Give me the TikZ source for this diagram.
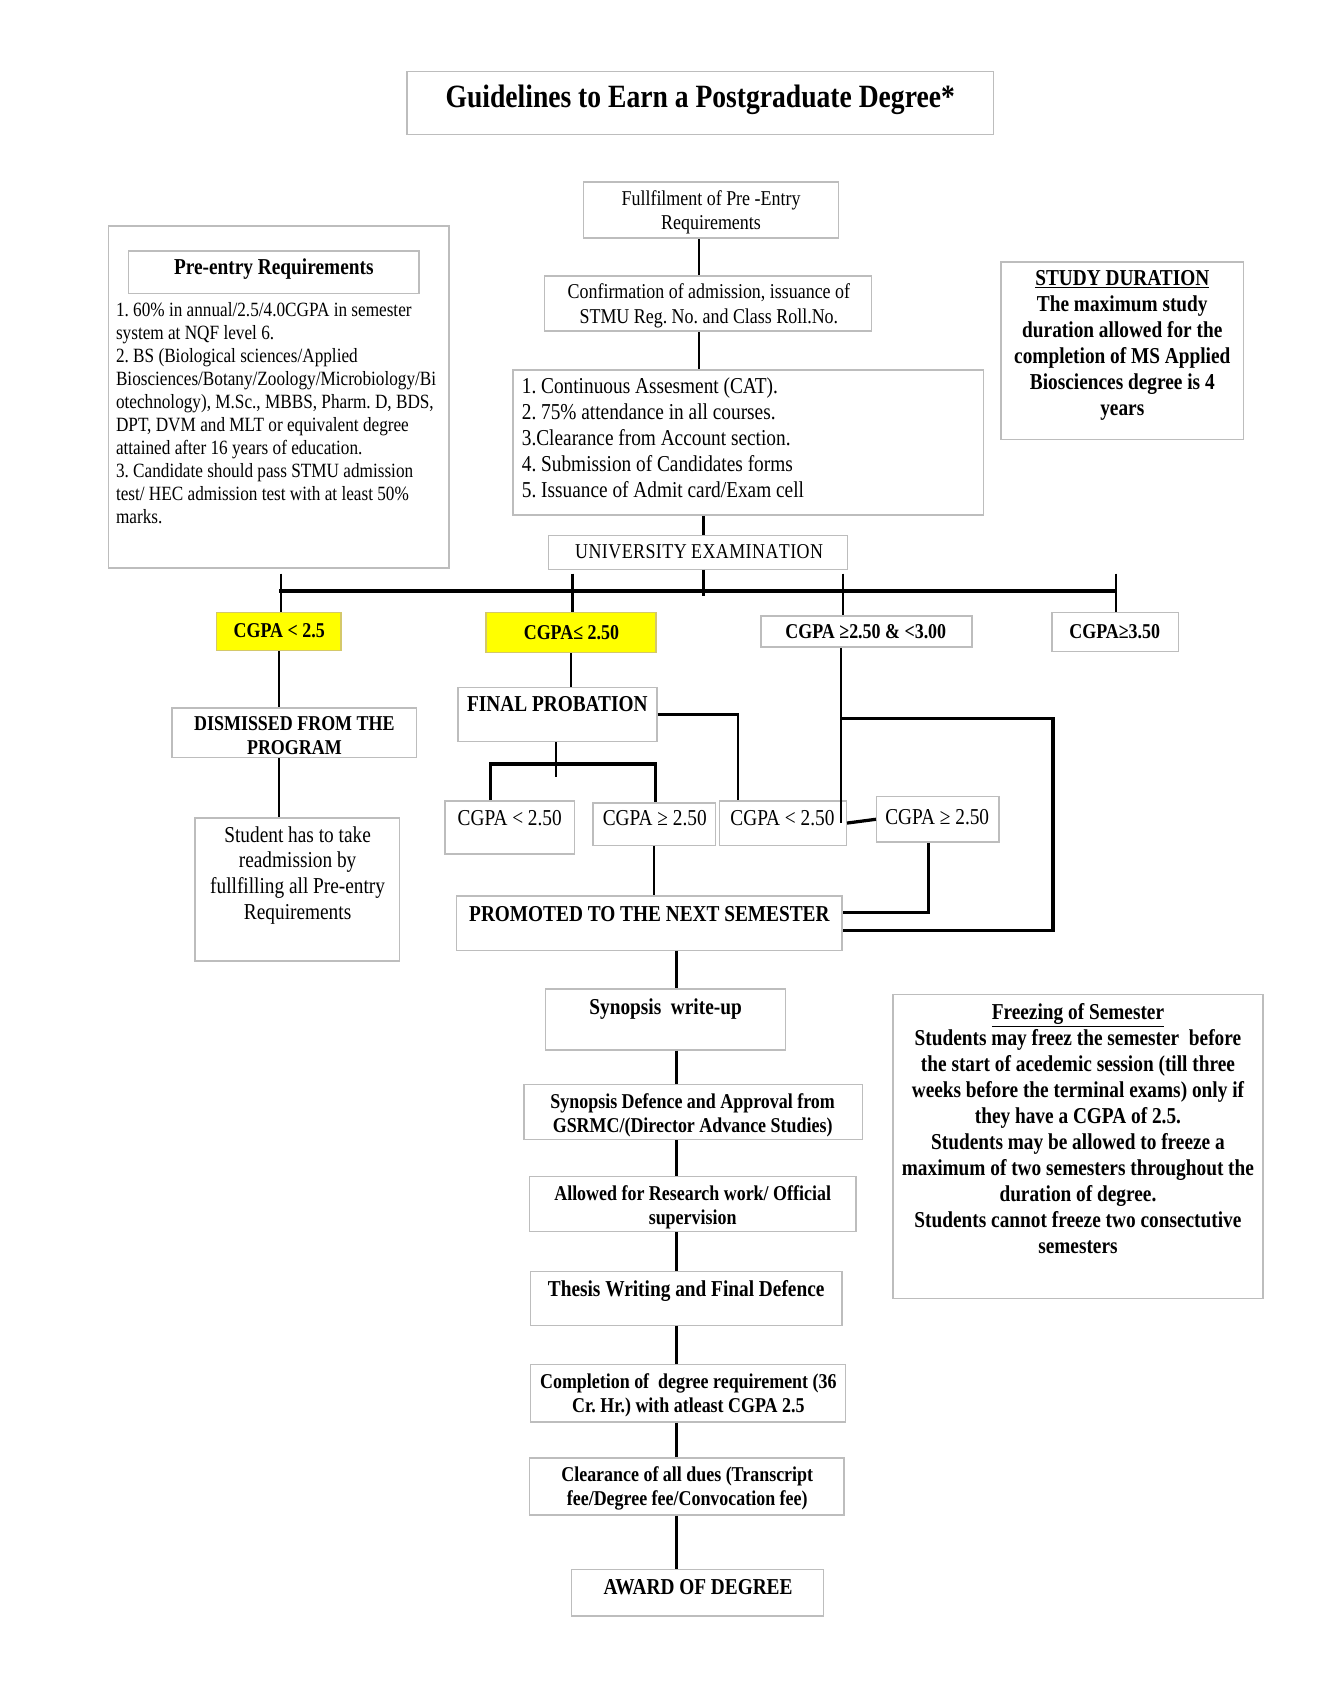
\documentclass[tikz,border=0pt]{standalone}
\usepackage{fontspec}
\setmainfont{Liberation Serif}[FakeStretch=0.85]
\frenchspacing
\usetikzlibrary{fit}
\definecolor{bxgray}{HTML}{BDBDBD}
\definecolor{yel}{HTML}{FFFF00}
\definecolor{yelborder}{HTML}{D4C86A}
\tikzset{
  bx/.style={draw=bxgray, line width=1.3pt, inner sep=0pt},
  ybx/.style={draw=yelborder, fill=yel, line width=1.3pt, inner sep=0pt},
  tr/.style={inner sep=0pt, anchor=base, align=flush center},
  tl/.style={inner sep=0pt, anchor=base west, align=flush left},
  fT/.style={font=\fontsize{30}{34}\selectfont\bfseries\frenchspacing},
  fB/.style={font=\fontsize{21}{24}\selectfont\bfseries\frenchspacing},
  fBs/.style={font=\fontsize{19.5}{22.5}\selectfont\bfseries\frenchspacing},
  fR/.style={font=\fontsize{21}{24}\selectfont\frenchspacing},
  fRs/.style={font=\fontsize{19.5}{22.5}\selectfont\frenchspacing},
  fRp/.style={font=\fontsize{18.7}{21.3}\selectfont\frenchspacing},
  cn/.style={line width=2pt, black},
  cnt/.style={line width=3pt, black},
}
\begin{document}
\begin{tikzpicture}[x=1pt, y=-1pt]
\fill[white] (0,0) rectangle (1222,1556);
\useasboundingbox (0,0) rectangle (1222,1556);

% ---------- boxes ----------
\node[bx, fit={(376,66) (918,124)}] (title) {};
\node[bx, fit={(539,168) (775,220)}] (fulfil) {};
\node[bx, fit={(503,255) (805,306)}] (confirm) {};
\node[bx, fit={(474,342) (909,476)}] (cat) {};
\node[bx, fit={(507,495) (783,526)}] (univ) {};
\node[bx, fit={(100,209) (415,525)}] (pre) {};
\node[bx, fit={(119,232) (387,271)}] (prehead) {};
\node[bx, fit={(925,242) (1149,406)}] (study) {};

\node[ybx, fit={(200,566) (315,601)}] (c1) {};
\node[ybx, fit={(449,566) (606,603)}] (c2) {};
\node[bx, fit={(703,569) (898,598)}] (c3) {};
\node[bx, fit={(972,566) (1089,602)}] (c4) {};

\node[bx, fit={(159,654) (385,700)}] (dism) {};
\node[bx, fit={(180,756) (369,888)}] (stud) {};
\node[bx, fit={(423,635) (607,685)}] (fp) {};

\node[bx, fit={(411,740) (531,789)}] (bxA) {};
\node[bx, fit={(548,742) (661,781)}] (bxB) {};
\node[bx, fit={(665,740) (782,781)}] (bxC) {};
\node[bx, fit={(810,736) (923,778)}] (bxD) {};

\node[bx, fit={(422,828) (778,878)}] (prom) {};
\node[bx, fit={(504,914) (726,970)}] (syn) {};
\node[bx, fit={(484,1002) (797,1053)}] (def) {};
\node[bx, fit={(489,1087) (791,1138)}] (allow) {};
\node[bx, fit={(490,1175) (778,1225)}] (thesis) {};
\node[bx, fit={(490,1261) (781,1314)}] (compl) {};
\node[bx, fit={(489,1347) (780,1400)}] (clear) {};
\node[bx, fit={(528,1450) (761,1493)}] (award) {};
\node[bx, fit={(825,919) (1167,1200)}] (freeze) {};

% ---------- texts ----------
\node[tr, fT, text width=560] (title-t) at (647,99) {Guidelines to Earn a Postgraduate Degree*};
\node[tr, fRs, text width=300] (fulfil-t) at (657,190) {Fullfilment of Pre -Entry\\[-0.5pt]Requirements};
\node[tr, fRs, text width=340] (confirm-t) at (655,276) {Confirmation of admission, issuance of\\STMU Reg. No. and Class Roll.No.};
\node[tl, fR, text width=420] (cat-t) at (482,364) {1. Continuous Assesment (CAT).\\2. 75\% attendance in all courses.\\3.Clearance from Account section.\\4. Submission of Candidates forms\\5. Issuance of Admit card/Exam cell};
\node[tr, fRs, text width=300] (univ-t) at (646,516) {U\kern.4ptN\kern.4ptI\kern.4ptV\kern.4ptE\kern.4ptR\kern.4ptS\kern.4ptI\kern.4ptT\kern.4ptY E\kern.4ptX\kern.4ptA\kern.4ptM\kern.4ptI\kern.4ptN\kern.4ptA\kern.4ptT\kern.4ptI\kern.4ptO\kern.4ptN};
\node[tr, fB, text width=300] (prehead-t) at (253,254) {Pre-entry Requirements};
\node[tl, fRp, text width=330] (pre-t) at (107,292) {1. 60\% in annual/2.5/4.0CGPA in semester\\system at NQF level 6.\\2. BS (Biological sciences/Applied\\Biosciences/Botany/Zoology/Microbiology/Bi\\otechnology), M.Sc., MBBS, Pharm. D, BDS,\\DPT, DVM and MLT or equivalent degree\\attained after 16 years of education.\\3. Candidate should pass STMU admission\\test/ HEC admission test with at least 50\%\\marks.};
\node[tr, fB, text width=260] (study-t) at (1037,264) {\underline{STUDY DURATION}\\The maximum study\\duration allowed for the\\completion of MS Applied\\Biosciences degree is 4\\years};

\node[tr, fBs, text width=140] (c1-t) at (258,589) {CGPA < 2.5};
\node[tr, fBs, text width=170] (c2-t) at (528,591) {CGPA≤ 2.50};
\node[tr, fBs, text width=210] (c3-t) at (800,590) {CGPA ≥2.50 \& <3.00};
\node[tr, fBs, text width=130] (c4-t) at (1030,590) {CGPA≥3.50};

\node[tr, fBs, text width=240] (dism-t) at (272,675) {DISMISSED FROM THE\\PROGRAM};
\node[tr, fR, text width=220] (stud-t) at (275,778) {Student has to take\\readmission by\\fullfilling all Pre-entry\\Requirements};
\node[tr, fB, text width=200] (fp-t) at (515,657) {FINAL PROBATION};

\node[tr, fR, text width=130] (bxA-t) at (471,763) {CGPA < 2.50};
\node[tr, fR, text width=130] (bxB-t) at (605,763) {CGPA ≥ 2.50};
\node[tr, fR, text width=130] (bxC-t) at (723,763) {CGPA < 2.50};
\node[tr, fR, text width=130] (bxD-t) at (866,762) {CGPA ≥ 2.50};

\node[tr, fB, text width=380] (prom-t) at (600,851) {PROMOTED TO THE NEXT SEMESTER};
\node[tr, fB, text width=240] (syn-t) at (615,937) {Synopsis\ \ write-up};
\node[tr, fBs, text width=340] (def-t) at (640,1024) {Synopsis Defence and Approval from\\GSRMC/(Director Advance Studies)};
\node[tr, fBs, text width=330] (allow-t) at (640,1109) {Allowed for Research work/ Official\\supervision};
\node[tr, fB, text width=310] (thesis-t) at (634,1198) {Thesis Writing and Final Defence};
\node[tr, fBs, text width=320] (compl-t) at (636,1283) {Completion of\ \ degree requirement (36\\Cr. Hr.) with atleast CGPA 2.5};
\node[tr, fBs, text width=320] (clear-t) at (635,1369) {Clearance of all dues (Transcript\\fee/Degree fee/Convocation fee)};
\node[tr, fB, text width=250] (award-t) at (645,1473) {AWARD OF DEGREE};
\node[tr, fB, text width=360] (freeze-t) at (996,942) {\underline{Freezing of Semester}\\Students may freez the semester\ \ before\\the start of acedemic session (till three\\weeks before the terminal exams) only if\\they have a CGPA of 2.5.\\Students may be allowed to freeze a\\maximum of two semesters throughout the\\duration of degree.\\Students cannot freeze two consectutive\\semesters};

% ---------- helper coordinates ----------
\coordinate (t1) at (646,0);
\coordinate (t2) at (650,0);
\coordinate (t3) at (625,0);
\coordinate (b1) at (260,530);
\coordinate (b2) at (529,530);
\coordinate (b4) at (779,530);
\coordinate (b5) at (1031,530);
\coordinate (busL) at (258,546);
\coordinate (busR) at (1032,546);
\coordinate (ut) at (650,551);
\coordinate (sp) at (514,706);
\coordinate (fpT) at (514,718);
\coordinate (v3) at (777,664);
\coordinate (rr) at (973,860);

% ---------- connectors ----------
\draw[cn] (fulfil.south -| t1) -- (confirm.north -| t1);
\draw[cn] (confirm.south -| t1) -- (cat.north -| t1);
\draw[cn] (cat.south -| t2) -- (univ.north -| t2);
\draw[cn] (univ.south -| t2) -- (ut);
\draw[cnt] (busL) -- (busR);
\draw[cn] (b1) -- (b1 |- c1.north);
\draw[cn] (b2) -- (b2 |- c2.north);
\draw[cn] (b4) -- (b4 |- c3.north);
\draw[cn] (b5) -- (b5 |- c4.north);

\draw[cn] (c1.south) -- (c1.south |- dism.north);
\draw[cn] (c1.south |- dism.south) -- (c1.south |- stud.north);
\draw[cn] (c2.south) -- (c2.south |- fp.north);

\draw[cn, line width=2.5pt] (fp.east) -| ([xshift=-41.5]bxC.north);
\draw[cn] (fp.south -| sp) -- (fpT);
\draw[cnt] ([xshift=-18]bxA.north) |- (sp) -| ([xshift=1.5]bxB.north);

\draw[cn] ([xshift=-23.5]c3.south) -- ([xshift=-23.5]c3.south |- bxC.east);
\draw[cnt] (v3) -| (rr) -- (rr -| prom.east);
\draw[cnt] (bxC.east) -- (bxD.west);
\draw[cn, line width=2.5pt] ([xshift=-8.5]bxD.south) |- ([yshift=10]prom.east);
\draw[cn] (bxB.south) -- (bxB.south |- prom.north);

\draw[cn] (prom.south -| t3) -- (syn.north -| t3);
\draw[cn] (syn.south -| t3) -- (def.north -| t3);
\draw[cn] (def.south -| t3) -- (allow.north -| t3);
\draw[cn] (allow.south -| t3) -- (thesis.north -| t3);
\draw[cn] (thesis.south -| t3) -- (compl.north -| t3);
\draw[cn] (compl.south -| t3) -- (clear.north -| t3);
\draw[cn] (clear.south -| t3) -- (award.north -| t3);
\end{tikzpicture}
\end{document}
